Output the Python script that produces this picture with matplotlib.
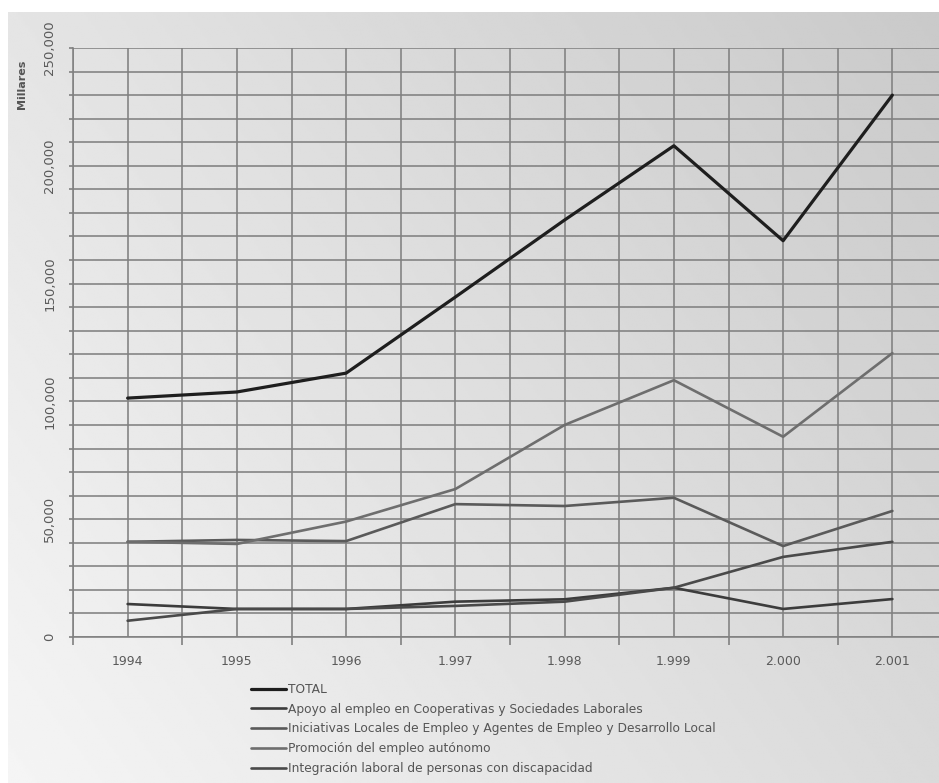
import numpy as np
import matplotlib
matplotlib.use("Agg")
import matplotlib.pyplot as plt
from matplotlib.ticker import MultipleLocator, FixedLocator

# Annual spending by programme (thousands)
years = ["1994", "1995", "1996", "1.997", "1.998", "1.999", "2.000", "2.001"]
total = [101400, 104000, 112000, 144300, 177000, 208500, 168200, 230000]
apoyo = [14000, 11900, 11900, 15000, 16000, 20900, 11900, 16100]
iniciativas = [40400, 41200, 40700, 56400, 55600, 59100, 38600, 53500]
promocion = [40400, 39500, 49000, 62800, 90000, 109000, 85000, 120500]
integracion = [6900, 11900, 11900, 13200, 15000, 20900, 34000, 40400]

series_labels = [
    "TOTAL",
    "Apoyo al empleo en Cooperativas y Sociedades Laborales",
    "Iniciativas Locales de Empleo y Agentes de Empleo y Desarrollo Local",
    "Promoción del empleo autónomo",
    "Integración laboral de personas con discapacidad",
]
series_values = [total, apoyo, iniciativas, promocion, integracion]
series_colors = ["#1e1e1e", "#3c3c3c", "#5a5a5a", "#6e6e6e", "#4a4a4a"]
series_widths = [2.3, 1.9, 1.9, 1.9, 1.9]

y_ticks = [0, 50000, 100000, 150000, 200000, 250000]
y_tick_labels = ["0", "50,000", "100,000", "150,000", "200,000", "250,000"]

W, H = 939, 783
fig = plt.figure(figsize=(W / 100, H / 100), dpi=100)
fig.patch.set_facecolor("white")

# Diagonal grey gradient panel behind everything
bg = fig.add_axes([8 / W, 0, 1 - 8 / W, (H - 12) / H], zorder=-10)
nx, ny = 400, 400
gx, gy = np.meshgrid(np.linspace(0, 1, nx), np.linspace(1, 0, ny))
u = 0.62 * gx + 0.38 * gy
shade = 0.96 - 0.17 * u
bg.imshow(shade, cmap="gray", vmin=0, vmax=1, aspect="auto",
          extent=[0, 1, 0, 1], interpolation="bilinear")
bg.set_axis_off()

left, right = 73 / W, 947 / W
bottom, top = (H - 637) / H, (H - 48) / H
ax = fig.add_axes([left, bottom, right - left, top - bottom])
ax.set_facecolor("none")

x = np.arange(len(years))
for vals, lab, col, lw in zip(series_values, series_labels, series_colors, series_widths):
    ax.plot(x, vals, color=col, lw=lw, label=lab, zorder=3, solid_capstyle="round")

ax.set_xlim(-0.5, 7.5)
ax.set_ylim(0, 250000)

grid_color = "#808080"
ax.yaxis.set_major_locator(FixedLocator(y_ticks))
ax.yaxis.set_minor_locator(MultipleLocator(10000))
ax.set_yticklabels(y_tick_labels, rotation=90, va="center",
                   fontsize=9.5, color="#5a5a5a")
ax.tick_params(axis="y", which="both", length=3, width=1.2, color=grid_color, pad=9)

ax.xaxis.set_major_locator(FixedLocator(x))
ax.xaxis.set_minor_locator(FixedLocator(np.arange(-0.5, 8, 1.0)))
ax.set_xticklabels(years, fontsize=9, color="#5a5a5a")
ax.tick_params(axis="x", which="major", length=0, pad=13)
ax.tick_params(axis="x", which="minor", length=6, width=1.2, color=grid_color)

ax.grid(True, which="both", axis="both", color=grid_color, lw=1.15, zorder=1)
for side in ["top", "right"]:
    ax.spines[side].set_visible(False)
for side in ["left", "bottom"]:
    ax.spines[side].set_color(grid_color)
    ax.spines[side].set_linewidth(1.15)

fig.text(22 / W, 1 - 84 / H, "Millares", rotation=90, ha="center", va="center",
         fontsize=8, color="#555555", fontweight="bold")

handles, labels = ax.get_legend_handles_labels()
fig.legend(handles, labels, loc="upper left", bbox_to_anchor=(251 / W, 1 - 683 / H),
           frameon=False, fontsize=8.8, labelcolor="#555555", handlelength=2.9,
           handletextpad=0.1, labelspacing=0.55, borderaxespad=0, borderpad=0)

fig.savefig("out.png", dpi=100)
